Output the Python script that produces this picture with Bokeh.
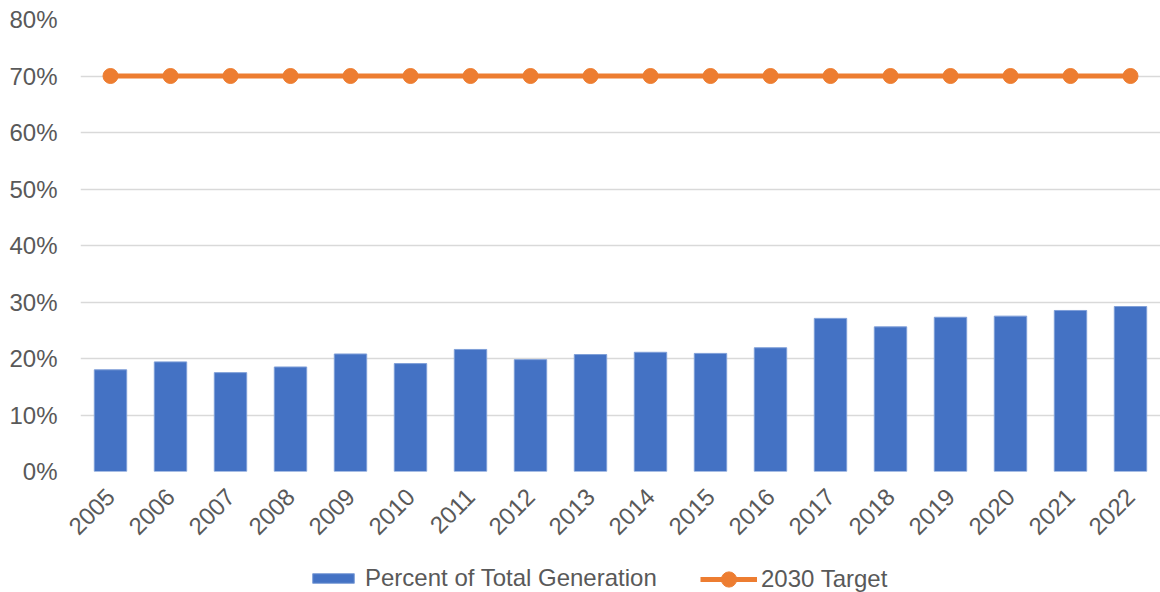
from bokeh.plotting import figure
from bokeh.layouts import column
from bokeh.models import FactorRange, Range1d, FixedTicker, NumeralTickFormatter, Legend, LegendItem, ColumnDataSource
from bokeh.embed import file_html
from bokeh.resources import INLINE
import math

years = ["2005", "2006", "2007", "2008", "2009", "2010", "2011", "2012", "2013",
         "2014", "2015", "2016", "2017", "2018", "2019", "2020", "2021", "2022"]
percent_total = [0.180, 0.194, 0.175, 0.185, 0.208, 0.191, 0.216, 0.198, 0.207,
                 0.211, 0.209, 0.219, 0.271, 0.256, 0.273, 0.275, 0.285, 0.292]
target_2030 = [0.70] * len(years)
y_ticks = [0, 0.1, 0.2, 0.3, 0.4, 0.5, 0.6, 0.7, 0.8]
series_names = ["Percent of Total Generation", "2030 Target"]

BLUE = "#4472C4"
ORANGE = "#ED7D31"
TEXT = "#595959"
FONT = "Liberation Sans"

W = 1160
MAIN_H = 552
LEG_H = 40
TOP, LEFT = 19, 80
ZERO_Y = 470.5

p = figure(width=W, height=MAIN_H, x_range=FactorRange(*years, range_padding=0),
           y_range=Range1d(0, 0.8), output_backend="svg", toolbar_location=None,
           min_border_left=LEFT, min_border_right=0, min_border_top=TOP,
           min_border_bottom=int(MAIN_H - ZERO_Y))
p.outline_line_color = None
p.background_fill_color = "white"

p.vbar(x=years, top=percent_total, width=0.54, fill_color=BLUE, line_color="#7f9fd8", line_width=1)
p.line(x=years, y=target_2030, line_color=ORANGE, line_width=5)
p.scatter(x=years, y=target_2030, size=15, fill_color=ORANGE, line_color=ORANGE)

p.xgrid.grid_line_color = None
p.ygrid.grid_line_color = "#d9d9d9"
p.ygrid.grid_line_width = 1.3
p.yaxis.ticker = FixedTicker(ticks=y_ticks)
p.yaxis.formatter = NumeralTickFormatter(format="0%")

for ax in (p.xaxis[0], p.yaxis[0]):
    ax.axis_line_color = None
    ax.major_tick_line_color = None
    ax.minor_tick_line_color = None
    ax.major_tick_out = 0
    ax.major_tick_in = 0
    ax.major_label_text_color = TEXT
    ax.major_label_text_font = FONT
    ax.major_label_text_font_size = "24px"
p.yaxis.major_label_standoff = 23
p.xaxis.major_label_orientation = math.pi / 4
p.xaxis.major_label_standoff = 21

# legend strip below the chart (its frame is aligned with the chart's frame)
lg = figure(width=W, height=LEG_H, x_range=Range1d(0, 1), y_range=Range1d(0, 1),
            output_backend="svg", toolbar_location=None, x_axis_location=None, y_axis_location=None,
            min_border_left=LEFT, min_border_right=0, min_border_top=0, min_border_bottom=0)
lg.outline_line_color = None
lg.xgrid.visible = False
lg.ygrid.visible = False
# legend-only renderers, their data lies outside the visible range
offscreen = ColumnDataSource(data=dict(x=[5, 6], y=[5, 5], top=[5, 5]))
r_bar = lg.vbar(x="x", top="top", width=0.5, source=offscreen, fill_color=BLUE, line_color="#7f9fd8", line_width=1)
r_line = lg.line(x="x", y="y", source=offscreen, line_color=ORANGE, line_width=5)
r_pts = lg.scatter(x="x", y="y", source=offscreen, size=15, fill_color=ORANGE, line_color=ORANGE)

common = dict(padding=0, margin=0, border_line_color=None, background_fill_alpha=0, label_height=12,
              label_text_font=FONT, label_text_font_size="24px", label_text_color=TEXT)
leg1 = Legend(items=[LegendItem(label=series_names[0], renderers=[r_bar], index=0)],
              location=(227, 0), glyph_width=52, glyph_height=12, label_standoff=6, **common)
leg2 = Legend(items=[LegendItem(label=series_names[1], renderers=[r_line, r_pts], index=0)],
              location=(620, -6), glyph_width=57, glyph_height=38, label_standoff=4, **common)
lg.add_layout(leg1)
lg.add_layout(leg2)

layout = column(p, lg, spacing=0)
open("out.html", "w").write(file_html(layout, INLINE))
